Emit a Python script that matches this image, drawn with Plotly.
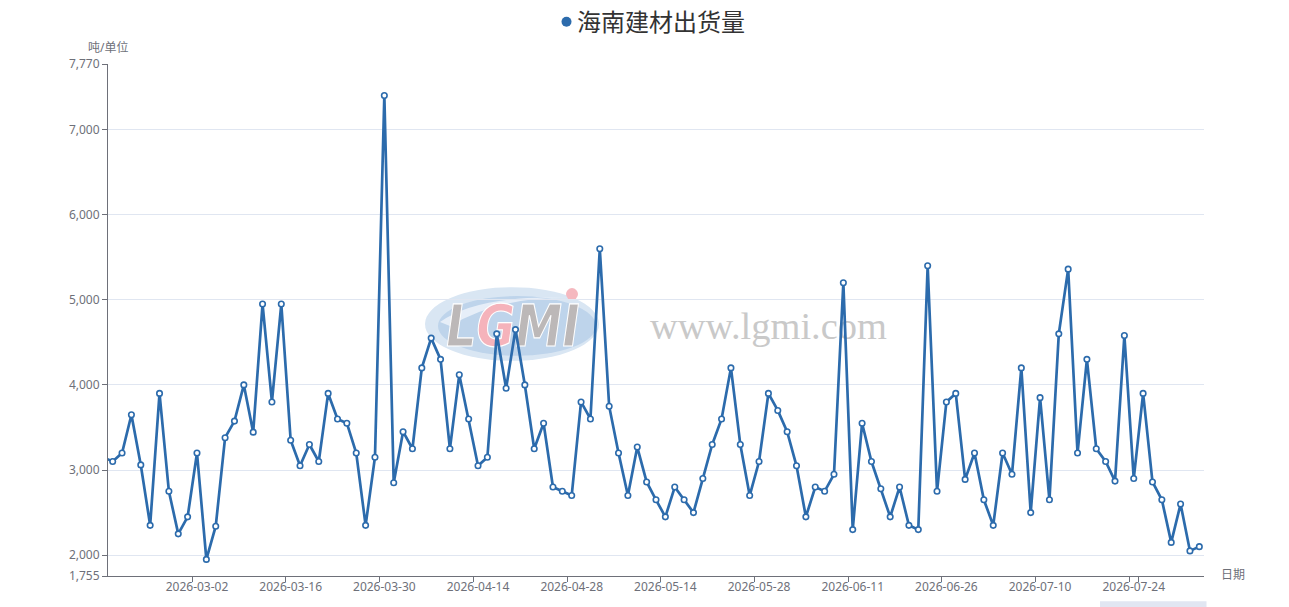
import base64
import pandas as pd
import plotly.graph_objects as go

# ---------------- data ----------------
START_DATE = "2026-02-16"
END_DATE = "2026-08-04"
HOLIDAYS = ["2026-04-06", "2026-05-01", "2026-05-04", "2026-06-19"]

# first value lies just left of the visible window (clipped, as in the zoomed reference)
VALUES = [3150,
          3100, 3200, 3650, 3060, 2350, 3900, 2750, 2250, 2450, 3200,
          1950, 2340, 3380, 3575, 4000, 3445, 4950, 3800, 4950, 3350,
          3050, 3300, 3100, 3900, 3600, 3550, 3200, 2350, 3150, 7400,
          2850, 3450, 3250, 4200, 4550, 4300, 3250, 4120, 3600, 3050,
          3150, 4600, 3960, 4650, 4000, 3250, 3550, 2800, 2750, 2700,
          3800, 3600, 5600, 3750, 3200, 2700, 3270, 2860, 2650, 2450,
          2800, 2650, 2500, 2900, 3300, 3600, 4200, 3300, 2700, 3100,
          3900, 3700, 3450, 3050, 2450, 2800, 2750, 2950, 5200, 2300,
          3550, 3100, 2780, 2450, 2800, 2350, 2300, 5400, 2750, 3800,
          3900, 2890, 3200, 2650, 2350, 3200, 2950, 4200, 2500, 3850,
          2650, 4600, 5360, 3200, 4300, 3250, 3100, 2870, 4580, 2900,
          3900, 2860, 2650, 2150, 2600, 2050, 2100]

X_TICK_LABELS = ["2026-03-02", "2026-03-16", "2026-03-30", "2026-04-14",
                 "2026-04-28", "2026-05-14", "2026-05-28", "2026-06-11",
                 "2026-06-26", "2026-07-10", "2026-07-24"]
Y_TICKS = [1755, 2000, 3000, 4000, 5000, 6000, 7000, 7770]
Y_MIN, Y_MAX = 1755, 7770

SERIES_NAME = "海南建材出货量"
Y_NAME = "吨/单位"
X_NAME = "日期"

DATES = [d.strftime("%Y-%m-%d") for d in
         pd.bdate_range(START_DATE, END_DATE, freq="C", holidays=HOLIDAYS)][:len(VALUES)]

# ---------------- layout geometry (pixels) ----------------
FIG_W, FIG_H = 1289, 607
L, R, T, B = 108, 1204, 64, 578
W, H = R - L, B - T


def px(x):
    return (x - L) / W


def py(y):
    return (B - y) / H


BLUE = "#2c6bac"
AXIS = "#6E7079"
GRID = "#E0E6F1"
FONT = "'Noto Sans', 'Noto Sans CJK SC', sans-serif"

fig = go.Figure()
fig.add_trace(go.Scatter(
    x=DATES, y=VALUES, mode="lines+markers", name=SERIES_NAME,
    line=dict(color=BLUE, width=2.7),
    marker=dict(size=5.5, color="white", line=dict(color=BLUE, width=1.6)),
    cliponaxis=True, showlegend=False,
))

# watermark (svg image drawn beneath the data)
svg = f"""<svg xmlns="http://www.w3.org/2000/svg" width="480" height="84" viewBox="0 0 480 84">
<ellipse cx="92" cy="42" rx="87" ry="37" fill="#d9e6f3"/>
<ellipse cx="97" cy="44" rx="79" ry="30" fill="#bed4eb"/>
<path d="M20 40 Q60 12 150 16 Q80 14 30 44 Z" fill="#e6eef8"/>
<g transform="translate(23,64) skewX(-8)">
<text x="0" y="0" font-family="DejaVu Sans" font-weight="bold" font-size="58" fill="#bcb8b8"
 stroke="#ffffff" stroke-width="1.2"
 textLength="134" lengthAdjust="spacingAndGlyphs">L<tspan fill="#f5b3bb">G</tspan>MI</text>
</g>
<circle cx="152" cy="12" r="6" fill="#f5b8bf"/>
<text x="230" y="57" font-family="Liberation Serif" font-size="38" fill="#c9c9c9"
 textLength="237" lengthAdjust="spacingAndGlyphs">www.lgmi.com</text>
</svg>"""
uri = "data:image/svg+xml;base64," + base64.b64encode(svg.encode("utf-8")).decode("ascii")

fig.update_layout(
    width=FIG_W, height=FIG_H, autosize=False,
    margin=dict(l=L, r=FIG_W - R, t=T, b=FIG_H - B, pad=0),
    paper_bgcolor="white", plot_bgcolor="white",
    font=dict(family=FONT, size=12, color=AXIS),
    images=[dict(source=uri, xref="paper", yref="paper",
                 x=px(420), y=py(283), sizex=480 / W, sizey=84 / H,
                 xanchor="left", yanchor="top", sizing="stretch", layer="below")],
    xaxis=dict(
        type="category", range=[0.5, len(VALUES) - 0.5],
        tickmode="array", tickvals=X_TICK_LABELS, ticktext=X_TICK_LABELS,
        tickson="boundaries", ticks="outside", ticklen=5, tickcolor=AXIS, tickwidth=1,
        showgrid=False, showline=True, linecolor=AXIS, linewidth=1,
        tickfont=dict(size=12, color=AXIS, family=FONT), tickangle=0,
        zeroline=False, fixedrange=True,
    ),
    yaxis=dict(
        range=[Y_MIN, Y_MAX], tickmode="array", tickvals=Y_TICKS,
        ticktext=[f"{v:,}" for v in Y_TICKS],
        ticks="outside", ticklen=5, tickcolor=AXIS, tickwidth=1,
        showgrid=True, gridcolor=GRID, gridwidth=1,
        showline=True, linecolor=AXIS, linewidth=1,
        tickfont=dict(size=12, color=AXIS, family=FONT),
        zeroline=False, fixedrange=True,
    ),
    shapes=[
        dict(type="circle", xref="paper", yref="paper", xsizemode="pixel", ysizemode="pixel",
             xanchor=px(566.5), yanchor=py(21.5), x0=-5, x1=5, y0=-5, y1=5,
             fillcolor=BLUE, line=dict(width=0)),
        dict(type="rect", xref="paper", yref="paper",
             x0=px(1100), x1=px(1206.5), y0=py(611), y1=py(603.3),
             fillcolor="#e1e6f2", line=dict(width=0), layer="above"),
    ],
    annotations=[
        dict(text=SERIES_NAME, xref="paper", yref="paper", x=px(575), y=py(21.5),
             xanchor="left", yanchor="middle", showarrow=False,
             font=dict(size=24, color="#333333", family=FONT)),
        dict(text=Y_NAME, xref="paper", yref="paper", x=px(108), y=py(47.5),
             xanchor="center", yanchor="middle", showarrow=False,
             font=dict(size=12, color=AXIS, family=FONT)),
        dict(text=X_NAME, xref="paper", yref="paper", x=px(1219), y=py(576),
             xanchor="left", yanchor="middle", showarrow=False,
             font=dict(size=12, color=AXIS, family=FONT)),
    ],
)

fig.write_html("out.html", config={"displayModeBar": False},
               post_script="document.body.style.margin='0';document.body.style.overflow='hidden';")
